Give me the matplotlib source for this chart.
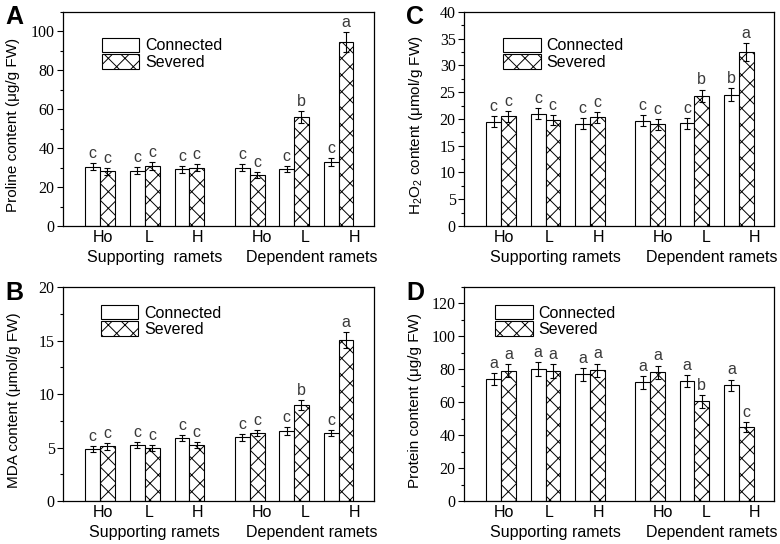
import numpy as np
import matplotlib.pyplot as plt
from matplotlib.ticker import MultipleLocator

plt.rcParams['font.family'] = ['Liberation Sans', 'DejaVu Sans']
plt.rcParams['hatch.linewidth'] = 0.7
plt.rcParams['mathtext.fontset'] = 'custom'
plt.rcParams['mathtext.rm'] = 'Liberation Sans'
plt.rcParams['mathtext.default'] = 'regular'

# data
groups = ['Ho', 'L', 'H', 'Ho', 'L', 'H']
series = ['Connected', 'Severed']
group_pos = [1, 2, 3, 4.35, 5.34, 6.34]

proline_conn = [30.4, 28.5, 29.1, 29.9, 29.1, 32.8]
proline_conn_err = [1.8, 1.8, 1.8, 1.8, 1.5, 2.0]
proline_sev = [28.2, 30.8, 29.9, 26.2, 56.1, 94.5]
proline_sev_err = [1.8, 2.0, 1.8, 1.5, 3.0, 5.0]
proline_conn_lab = ['c', 'c', 'c', 'c', 'c', 'c']
proline_sev_lab = ['c', 'c', 'c', 'c', 'b', 'a']

h2o2_conn = [19.5, 21.0, 19.1, 19.7, 19.2, 24.5]
h2o2_conn_err = [1.0, 1.0, 1.0, 1.0, 1.0, 1.2]
h2o2_sev = [20.5, 19.8, 20.3, 19.0, 24.3, 32.5]
h2o2_sev_err = [1.0, 1.0, 1.0, 1.0, 1.2, 1.7]
h2o2_conn_lab = ['c', 'c', 'c', 'c', 'c', 'b']
h2o2_sev_lab = ['c', 'c', 'c', 'c', 'b', 'a']

mda_conn = [4.85, 5.25, 5.9, 5.95, 6.55, 6.35]
mda_conn_err = [0.3, 0.3, 0.3, 0.3, 0.35, 0.3]
mda_sev = [5.1, 4.95, 5.25, 6.35, 8.95, 15.05]
mda_sev_err = [0.3, 0.3, 0.3, 0.3, 0.45, 0.75]
mda_conn_lab = ['c', 'c', 'c', 'c', 'c', 'c']
mda_sev_lab = ['c', 'c', 'c', 'c', 'b', 'a']

protein_conn = [74.2, 80.2, 77.0, 72.0, 73.0, 70.3]
protein_conn_err = [3.8, 4.0, 3.8, 3.8, 3.8, 3.5]
protein_sev = [79.2, 79.0, 79.5, 78.3, 60.5, 45.0]
protein_sev_err = [4.0, 4.0, 4.0, 4.0, 3.8, 3.2]
protein_conn_lab = ['a', 'a', 'a', 'a', 'a', 'a']
protein_sev_lab = ['a', 'a', 'a', 'a', 'b', 'c']

tick_pos = [1.07, 2.09, 3.18, 4.63, 5.6, 6.69]
width = 0.33


def draw_panel(ax, conn, conn_err, sev, sev_err, conn_lab, sev_lab,
               ymax, major, minor, ylabel, support_text, legend_xy, ylabel_x):
    x = np.array(group_pos)
    ax.bar(x - width / 2, conn, width, color='white', edgecolor='black',
           linewidth=0.8, label=series[0])
    ax.bar(x + width / 2, sev, width, color='white', edgecolor='black',
           linewidth=0.8, hatch='xx', label=series[1])
    ax.errorbar(x - width / 2, conn, yerr=conn_err, fmt='none', ecolor='black',
                elinewidth=0.8, capsize=2, capthick=0.8)
    ax.errorbar(x + width / 2, sev, yerr=sev_err, fmt='none', ecolor='black',
                elinewidth=0.8, capsize=2, capthick=0.8)
    for xi, v, e, t in zip(x - width / 2, conn, conn_err, conn_lab):
        ax.annotate(t, (xi, v + e), xytext=(0, 1.5), textcoords='offset points',
                    ha='center', va='bottom', fontsize=11.5, color='#3a3a3a')
    for xi, v, e, t in zip(x + width / 2, sev, sev_err, sev_lab):
        ax.annotate(t, (xi, v + e), xytext=(0, 1.5), textcoords='offset points',
                    ha='center', va='bottom', fontsize=11.5, color='#3a3a3a')

    ax.set_xlim(0.17, 7.13)
    ax.set_ylim(0, ymax)
    ax.yaxis.set_major_locator(MultipleLocator(major))
    ax.yaxis.set_minor_locator(MultipleLocator(minor))
    ax.tick_params(axis='y', which='major', direction='out', length=4, width=0.8,
                   labelsize=11.5, labelfontfamily='Liberation Serif', pad=2)
    ax.tick_params(axis='y', which='minor', direction='out', length=2, width=0.8)
    ax.set_xticks(tick_pos, groups)
    ax.tick_params(axis='x', length=0, labelsize=11.5, pad=3)
    for sp in ax.spines.values():
        sp.set_linewidth(0.9)

    ax.set_ylabel(ylabel, fontsize=11)
    ax.yaxis.set_label_coords(ylabel_x, 0.47)

    for gx, txt in [(2.22, support_text), (5.73, 'Dependent ramets')]:
        ax.annotate(txt, (gx, 0), xycoords=('data', 'axes fraction'),
                    xytext=(0, -22.5), textcoords='offset points',
                    ha='center', va='center', fontsize=11.5)

    ax.legend(loc='upper left', bbox_to_anchor=legend_xy, frameon=False,
              fontsize=11.5, handlelength=2.35, handleheight=1.0,
              labelspacing=0.05, handletextpad=0.35, borderpad=0,
              borderaxespad=0)


fig = plt.figure(figsize=(7.8, 5.44), dpi=100)
axA = fig.add_axes([0.0808, 0.5846, 0.3987, 0.3934])
axC = fig.add_axes([0.5949, 0.5846, 0.3974, 0.3934])
axB = fig.add_axes([0.0808, 0.0790, 0.3987, 0.3934])
axD = fig.add_axes([0.5949, 0.0790, 0.3974, 0.3934])

draw_panel(axA, proline_conn, proline_conn_err, proline_sev, proline_sev_err,
           proline_conn_lab, proline_sev_lab, 110, 20, 10,
           'Proline content (μg/g FW)', 'Supporting  ramets', (0.125, 0.879), -0.138)
draw_panel(axC, h2o2_conn, h2o2_conn_err, h2o2_sev, h2o2_sev_err,
           h2o2_conn_lab, h2o2_sev_lab, 40, 5, 2.5,
           'H$_2$O$_2$ content (μmol/g FW)', 'Supporting ramets', (0.126, 0.879), -0.125)
draw_panel(axB, mda_conn, mda_conn_err, mda_sev, mda_sev_err,
           mda_conn_lab, mda_sev_lab, 20, 5, 2.5,
           'MDA content (μmol/g FW)', 'Supporting ramets', (0.122, 0.916), -0.135)
draw_panel(axD, protein_conn, protein_conn_err, protein_sev, protein_sev_err,
           protein_conn_lab, protein_sev_lab, 130, 20, 10,
           'Protein content (μg/g FW)', 'Supporting ramets', (0.10, 0.916), -0.135)

for letter, px, py in [('A', 14, 17), ('C', 415, 17), ('B', 14, 293), ('D', 415, 293)]:
    fig.text(px / 780, 1 - py / 544, letter, fontsize=18, fontweight='bold',
             ha='center', va='center')

fig.savefig('out.png', dpi=100)
